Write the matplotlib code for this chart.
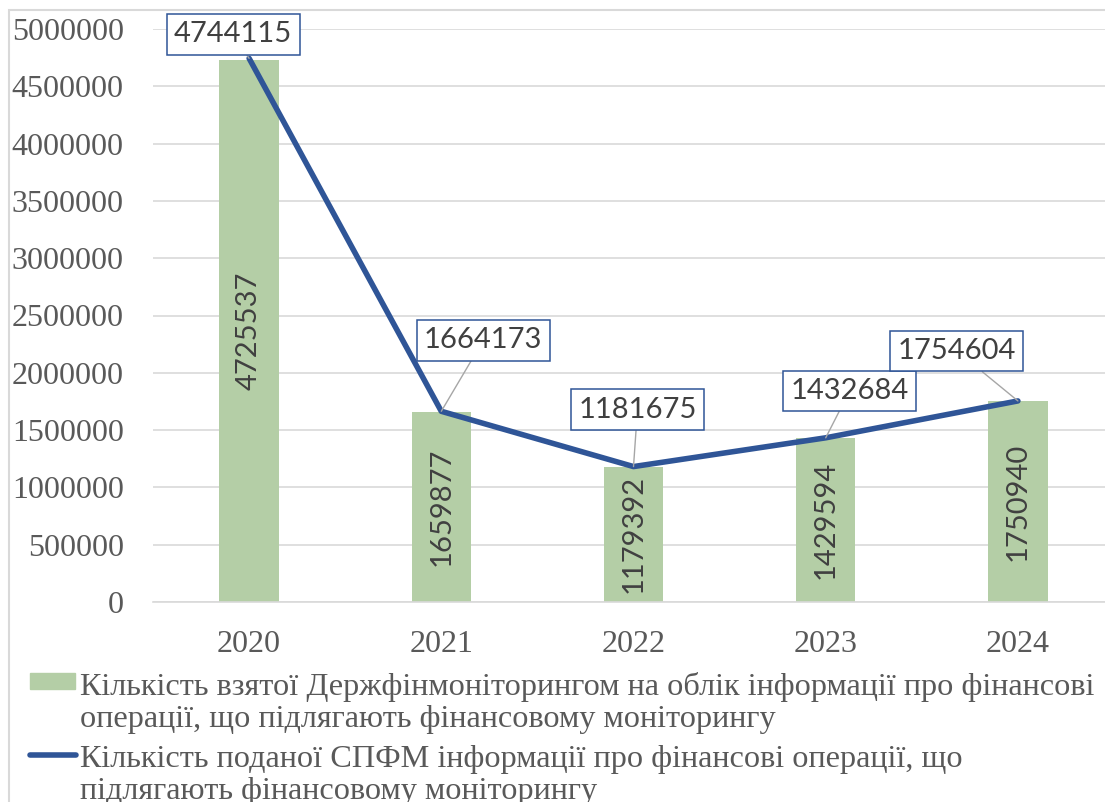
import matplotlib
matplotlib.use("Agg")
import matplotlib.pyplot as plt
from matplotlib.patches import Rectangle
from matplotlib.lines import Line2D

years = ["2020", "2021", "2022", "2023", "2024"]
taken = [4725537, 1659877, 1179392, 1429594, 1750940]
submitted = [4744115, 1664173, 1181675, 1432684, 1754604]
yticks = [0, 500000, 1000000, 1500000, 2000000, 2500000, 3000000, 3500000, 4000000, 4500000, 5000000]
legend_bar = "Кількість взятої Держфінмоніторингом на облік інформації про фінансові\nоперації, що підлягають фінансовому моніторингу"
legend_line = "Кількість поданої СПФМ інформації про фінансові операції, що\nпідлягають фінансовому моніторингу"

# label offsets in pixels (style)
offsets = [(-16, 24), (42, 71), (4, 57), (24, 47), (-61, 50)]

W, H = 1105, 802
fig = plt.figure(figsize=(W / 100, H / 100), dpi=100)
fig.patch.set_facecolor("white")

# chart border
fig.patches.append(Rectangle((9 / W, -0.5), 2.0, 1.5 - 10 / H, transform=fig.transFigure,
                             fill=False, edgecolor="#D9D9D9", lw=1.5))

ax = fig.add_axes([153 / W, 1 - 602 / H, (1114 - 153) / W, (602 - 29) / H])
x = list(range(len(years)))
bars = ax.bar(x, taken, width=0.31, color="#B4CEA6", zorder=2)
ax.plot(x, submitted, color="#2F5597", lw=4.0, solid_capstyle="round", zorder=3)

ax.set_xlim(-0.5, 4.5)
ax.set_ylim(0, 5000000)
ax.set_yticks(yticks)
ax.set_yticklabels([str(v) for v in yticks])
ax.set_xticks(x)
ax.set_xticklabels(years)
for s in ["top", "right", "left"]:
    ax.spines[s].set_visible(False)
ax.spines["bottom"].set_color("#D9D9D9")
ax.spines["bottom"].set_linewidth(1.2)
ax.grid(axis="y", color="#D9D9D9", lw=1.2, zorder=0)
ax.set_axisbelow(True)
ax.tick_params(axis="y", length=0, pad=21, labelsize=23, labelcolor="#595959")
ax.tick_params(axis="x", length=0, pad=20, labelsize=23, labelcolor="#595959")
for lab in ax.get_xticklabels() + ax.get_yticklabels():
    lab.set_fontfamily("Liberation Serif")

ax.bar_label(bars, labels=[str(v) for v in taken], label_type="center", rotation=90,
             fontsize=21, color="#404040", family="Lato")

for i, v in enumerate(submitted):
    ax.annotate(str(v), xy=(i, v), xytext=offsets[i], textcoords="offset pixels",
                ha="center", va="center", fontsize=21, color="#404040", family="Lato",
                bbox=dict(boxstyle="square,pad=0.25", fc="white", ec="#2F5597", lw=1.1),
                arrowprops=dict(arrowstyle="-", color="#A6A6A6", lw=1.0, shrinkA=0, shrinkB=0),
                zorder=5, annotation_clip=False)

# legend (manual)
fig.patches.append(Rectangle((30 / W, 1 - 689 / H), 45 / W, 16 / H, transform=fig.transFigure,
                             color="#B4CEA6"))
fig.lines.append(Line2D([30 / W, 76 / W], [1 - 755 / H, 1 - 755 / H], transform=fig.transFigure,
                        color="#2F5597", lw=4.0, solid_capstyle="round"))
fig.text(80 / W, 1 - 672 / H, legend_bar, ha="left", va="top", fontsize=23.2, color="#595959",
         family="Liberation Serif", linespacing=1.12)
fig.text(80 / W, 1 - 745 / H, legend_line, ha="left", va="top", fontsize=23.2, color="#595959",
         family="Liberation Serif", linespacing=1.12)

fig.savefig("out.png", dpi=100)
